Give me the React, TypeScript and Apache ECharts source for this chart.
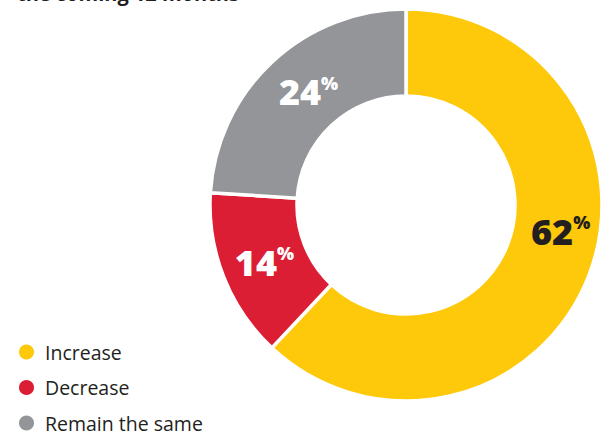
import React, { useEffect, useRef } from "react";
import * as echarts from "echarts";

const categories = ["Increase", "Decrease", "Remain the same"];
const values = [62, 14, 24];
const colors = ["#FDC90A", "#DC1E35", "#939598"];
const labelColors = ["#231F20", "#FFFFFF", "#FFFFFF"];
const labelOffsets: [number, number][] = [[10, -31], [3, 0], [9, 0]];
const titleText = "the coming 12 months";

export default function App() {
  const ref = useRef<HTMLDivElement>(null);
  useEffect(() => {
    document.body.style.margin = "0";
    const chart = echarts.init(ref.current!, null, { renderer: "svg" });
    chart.setOption({
      animation: false,
      graphic: [
        {
          type: "text",
          left: 17,
          top: -17,
          style: {
            text: titleText,
            font: "bold 20px 'Open Sans'",
            fill: "#231F20",
          },
        },
      ],
      legend: {
        orient: "vertical",
        left: 17,
        top: 342,
        height: 100,
        padding: 0,
        icon: "circle",
        itemWidth: 17,
        itemHeight: 17,
        itemGap: 15.5,
        selectedMode: false,
        textStyle: {
          fontFamily: "Open Sans",
          fontSize: 19.5,
          lineHeight: 18,
          color: "#231F20",
          padding: [0, 0, 0, 5],
        },
        data: categories,
      },
      series: [
        {
          type: "pie",
          center: [406, 205],
          radius: [109, 196],
          startAngle: 90,
          clockwise: true,
          avoidLabelOverlap: false,
          itemStyle: { borderColor: "#fff", borderWidth: 3.5 },
          label: {
            show: true,
            position: "inside",
            formatter: (p: any) => `{n|${p.value}}{p|%}`,
            rich: {
              n: {
                fontFamily: "Open Sans",
                fontWeight: 800,
                fontSize: 36,
              },
              p: {
                fontFamily: "Open Sans",
                fontWeight: 800,
                fontSize: 18,
                verticalAlign: "top",
                padding: [0, 0, 15, 0],
              },
            },
          },
          labelLine: { show: false },
          emphasis: { disabled: true },
          data: categories.map((c, i) => ({
            name: c,
            value: values[i],
            itemStyle: { color: colors[i] },
            label: {
              color: labelColors[i],
              offset: labelOffsets[i],
              rich: {
                n: { color: labelColors[i] },
                p: { color: labelColors[i] },
              },
            },
          })),
        },
      ],
    });
    return () => chart.dispose();
  }, []);
  return <div ref={ref} style={{ width: 603, height: 432 }} />;
}
